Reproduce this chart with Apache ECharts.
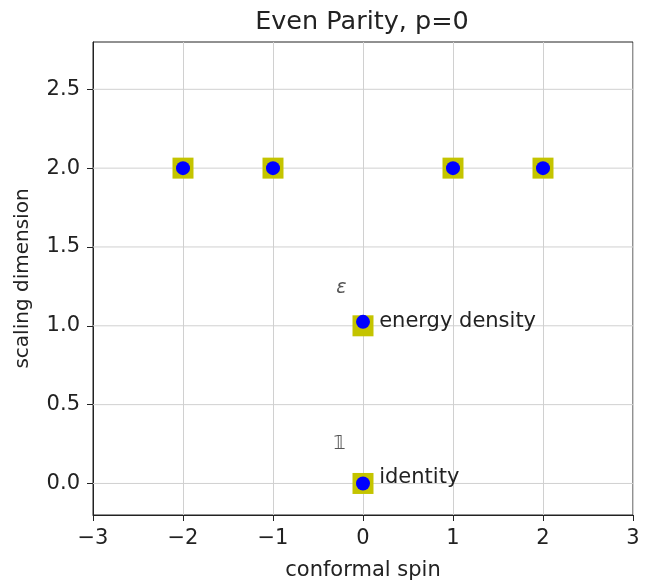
<!DOCTYPE html>
<html>
<head>
<meta charset="utf-8">
<script src="https://cdn.jsdelivr.net/npm/echarts@6/dist/echarts.min.js"></script>
<style>
  html, body { margin: 0; padding: 0; background: #fff; }
  #chart { width: 646px; height: 587px; }
</style>
</head>
<body>
<div id="chart"></div>
<script>
// conformal spin / scaling dimension of the operators
const squareSpins = [-2, -1, 1, 2, 0, 0];
const squareDims = [2, 2, 2, 2, 1, 0];
const dotSpins = [-2, -1, 1, 2, 0, 0];
const dotDims = [2, 2, 2, 2, 1.025, 0];

// text labels placed in data space
const opLabels = ['ε', '𝟙'];
const opLabelPos = [[-0.24, 1.24], [-0.26, 0.25]];
const nameLabels = ['energy density', 'identity'];
const nameLabelPos = [[0.18, 1.03], [0.18, 0.04]];

const yTicks = [0, 0.5, 1, 1.5, 2, 2.5];
const xMin = -3;
const xMax = 3;
const font = 'DejaVu Sans';

window.addEventListener('DOMContentLoaded', () => {
    const myChart = echarts.init(document.getElementById('chart'));

    const zip = (xs, ys) => xs.map((x, i) => [x, ys[i]]);

    // horizontal grid lines at the y ticks, drawn as plain line series under the marks
    const gridLines = yTicks.map(v => ({
        type: 'line',
        data: [[xMin, v], [xMax, v]],
        symbol: 'none',
        silent: true,
        z: 0,
        lineStyle: { color: '#d0d0d0', width: 1 }
    }));

    myChart.setOption({
        animation: false,
        title: {
            text: 'Even Parity, p=0',
            left: 357,
            top: 4,
            textAlign: 'center',
            textStyle: {
                fontFamily: font,
                fontSize: 25.5,
                fontWeight: 'normal',
                color: '#222'
            }
        },
        grid: {
            left: 93,
            right: 13,
            top: 42,
            bottom: 72,
            show: true,
            borderColor: '#222',
            borderWidth: 1
        },
        xAxis: {
            type: 'value',
            min: xMin,
            max: xMax,
            interval: 1,
            name: 'conformal spin',
            nameLocation: 'middle',
            nameGap: 45,
            nameTextStyle: { fontFamily: font, fontSize: 21, color: '#222' },
            axisLine: { show: true, onZero: false, lineStyle: { color: '#222' } },
            axisTick: { show: true, length: 6, lineStyle: { color: '#222' } },
            axisLabel: {
                fontFamily: font,
                fontSize: 21,
                color: '#222',
                margin: 13,
                formatter: v => v < 0 ? '\u2212' + Math.abs(v) : String(v)
            },
            splitLine: { show: true, lineStyle: { color: '#d0d0d0' } }
        },
        yAxis: {
            type: 'value',
            min: -0.2,
            max: 2.8,
            name: 'scaling dimension',
            nameLocation: 'middle',
            nameGap: 60,
            nameTextStyle: { fontFamily: font, fontSize: 20, color: '#222' },
            axisLine: { show: true, onZero: false, lineStyle: { color: '#222' } },
            axisTick: { show: true, length: 6, customValues: yTicks, lineStyle: { color: '#222' } },
            axisLabel: {
                fontFamily: font,
                fontSize: 21,
                color: '#222',
                margin: 13,
                customValues: yTicks,
                formatter: v => v.toFixed(1)
            },
            splitLine: { show: false }
        },
        series: gridLines.concat([
            {
                type: 'scatter',
                symbol: 'rect',
                symbolSize: 21,
                itemStyle: { color: '#c4c400', opacity: 1, borderWidth: 0 },
                data: zip(squareSpins, squareDims),
                z: 2
            },
            {
                type: 'scatter',
                symbol: 'circle',
                symbolSize: 14,
                itemStyle: { color: '#0000ff', opacity: 1, borderWidth: 0 },
                data: zip(dotSpins, dotDims),
                z: 3
            },
            {
                type: 'scatter',
                symbolSize: 0,
                z: 4,
                itemStyle: { opacity: 1 },
                data: opLabelPos.map((p, i) => ({ value: p, name: opLabels[i] })),
                label: {
                    show: true,
                    position: 'inside',
                    formatter: '{b}',
                    fontFamily: font,
                    fontStyle: 'italic',
                    fontSize: 19,
                    color: '#555'
                }
            },
            {
                type: 'scatter',
                symbolSize: 0,
                z: 4,
                itemStyle: { opacity: 1 },
                data: nameLabelPos.map((p, i) => ({ value: p, name: nameLabels[i] })),
                label: {
                    show: true,
                    position: 'right',
                    distance: 0,
                    formatter: '{b}',
                    fontFamily: font,
                    fontSize: 21,
                    color: '#222'
                }
            }
        ])
    });
});
</script>
</body>
</html>
